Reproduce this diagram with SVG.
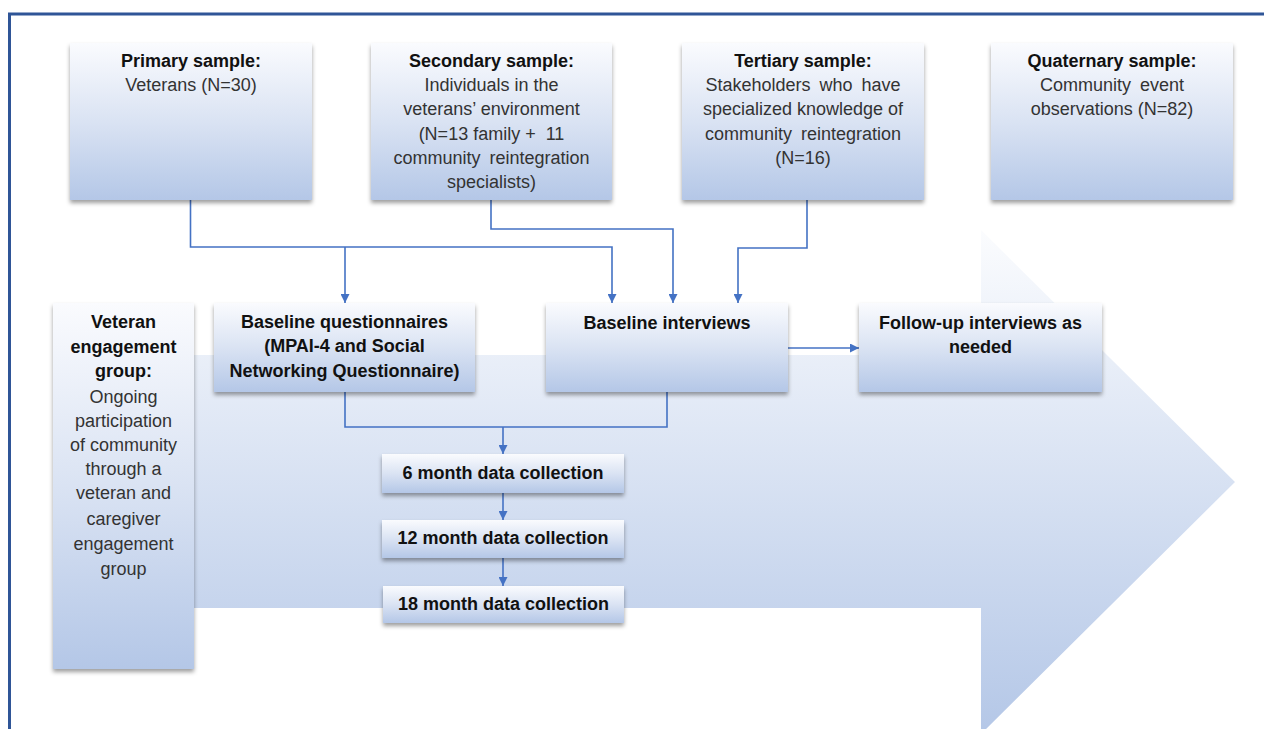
<svg xmlns="http://www.w3.org/2000/svg" width="1264" height="729" viewBox="0 0 1264 729">
<defs>
  <linearGradient id="boxGrad" x1="0" y1="0" x2="0" y2="1">
    <stop offset="0" stop-color="#FAFBFE"/>
    <stop offset="0.5" stop-color="#DAE3F3"/>
    <stop offset="1" stop-color="#B4C7E7"/>
  </linearGradient>
  <linearGradient id="arrowGrad" gradientUnits="userSpaceOnUse" x1="0" y1="230" x2="0" y2="734">
    <stop offset="0" stop-color="#FBFCFE"/>
    <stop offset="1" stop-color="#B4C7E7"/>
  </linearGradient>
  <filter id="shadow" x="-10%" y="-10%" width="120%" height="130%">
    <feDropShadow dx="0" dy="3" stdDeviation="2" flood-color="#000" flood-opacity="0.38"/>
  </filter>
  <marker id="arr" markerUnits="userSpaceOnUse" markerWidth="9" markerHeight="9" refX="9" refY="4.5" orient="auto">
    <path d="M0,0 L9,4.5 L0,9 Z" fill="#4472C4"/>
  </marker>
</defs>
<style>
  .box { fill: url(#boxGrad); filter: url(#shadow); }
  .t { font-family: "Liberation Sans", Arial, sans-serif; font-size: 18px; text-anchor: middle; }
  .b { font-weight: bold; fill: #111; }
  .r { fill: #333; }
  .conn { fill: none; stroke: #4472C4; stroke-width: 1.6; }
</style>
<rect x="0" y="0" width="1264" height="729" fill="#FFFFFF"/>
<rect x="9.5" y="14" width="1300" height="800" fill="none" stroke="#2F5597" stroke-width="3"/>

<g id="timeline-arrow">
  <path d="M150 355 L981 355 L981 230 L1235 482 L981 734 L981 608 L150 608 Z" fill="url(#arrowGrad)"/>
</g>

<g id="connectors">
  <path class="conn" d="M190.5 200 V247 H612 V303" marker-end="url(#arr)"/>
  <path class="conn" d="M345 247 V303" marker-end="url(#arr)"/>
  <path class="conn" d="M491 200 V229 H673 V303" marker-end="url(#arr)"/>
  <path class="conn" d="M807 200 V248 H738 V303" marker-end="url(#arr)"/>
  <path class="conn" d="M788 348 H859" marker-end="url(#arr)"/>
  <path class="conn" d="M345 392 V427 H667 V392"/>
  <path class="conn" d="M503 427 V454" marker-end="url(#arr)"/>
  <path class="conn" d="M503 493 V520" marker-end="url(#arr)"/>
  <path class="conn" d="M503 558 V586" marker-end="url(#arr)"/>
</g>

<g id="primary">
  <rect class="box" x="70" y="43" width="242" height="157"/>
  <text class="t b" x="191" y="67">Primary sample:</text>
  <text class="t r" x="191" y="91">Veterans (N=30)</text>
</g>

<g id="secondary">
  <rect class="box" x="371" y="43" width="241" height="157"/>
  <text class="t b" x="491.5" y="67">Secondary sample:</text>
  <text class="t r" x="491.5" y="91">Individuals in the</text>
  <text class="t r" x="491.5" y="115">veterans’ environment</text>
  <text class="t r" x="491.5" y="140" xml:space="preserve">(N=13 family +  11</text>
  <text class="t r" x="491.5" y="164" word-spacing="4">community reintegration</text>
  <text class="t r" x="491.5" y="188">specialists)</text>
</g>

<g id="tertiary">
  <rect class="box" x="682" y="43" width="242" height="157"/>
  <text class="t b" x="803" y="67">Tertiary sample:</text>
  <text class="t r" x="803" y="91" word-spacing="4">Stakeholders who have</text>
  <text class="t r" x="803" y="115">specialized knowledge of</text>
  <text class="t r" x="803" y="140" word-spacing="4">community reintegration</text>
  <text class="t r" x="803" y="164">(N=16)</text>
</g>

<g id="quaternary">
  <rect class="box" x="991" y="43" width="242" height="157"/>
  <text class="t b" x="1112" y="67">Quaternary sample:</text>
  <text class="t r" x="1112" y="91" word-spacing="4">Community event</text>
  <text class="t r" x="1112" y="115">observations (N=82)</text>
</g>

<g id="veteran-engagement">
  <rect class="box" x="53" y="303" width="141" height="366"/>
  <text class="t b" x="123.5" y="328">Veteran</text>
  <text class="t b" x="123.5" y="353">engagement</text>
  <text class="t b" x="123.5" y="377">group:</text>
  <text class="t r" x="123.5" y="403">Ongoing</text>
  <text class="t r" x="123.5" y="427">participation</text>
  <text class="t r" x="123.5" y="451">of community</text>
  <text class="t r" x="123.5" y="475">through a</text>
  <text class="t r" x="123.5" y="499">veteran and</text>
  <text class="t r" x="123.5" y="525">caregiver</text>
  <text class="t r" x="123.5" y="550">engagement</text>
  <text class="t r" x="123.5" y="575">group</text>
</g>

<g id="baseline-questionnaires">
  <rect class="box" x="214" y="303" width="261" height="89"/>
  <text class="t b" x="344.5" y="328">Baseline questionnaires</text>
  <text class="t b" x="344.5" y="352">(MPAI-4 and Social</text>
  <text class="t b" x="344.5" y="377">Networking Questionnaire)</text>
</g>

<g id="baseline-interviews">
  <rect class="box" x="546" y="303" width="242" height="89"/>
  <text class="t b" x="667" y="329">Baseline interviews</text>
</g>

<g id="follow-up">
  <rect class="box" x="859" y="303" width="243" height="89"/>
  <text class="t b" x="980.5" y="329">Follow-up interviews as</text>
  <text class="t b" x="980.5" y="353">needed</text>
</g>

<g id="month6">
  <rect class="box" x="382" y="454" width="242" height="39"/>
  <text class="t b" x="503" y="479">6 month data collection</text>
</g>

<g id="month12">
  <rect class="box" x="382" y="520" width="242" height="38"/>
  <text class="t b" x="503" y="544">12 month data collection</text>
</g>

<g id="month18">
  <rect class="box" x="383" y="586" width="241" height="37"/>
  <text class="t b" x="503.5" y="610">18 month data collection</text>
</g>
</svg>
